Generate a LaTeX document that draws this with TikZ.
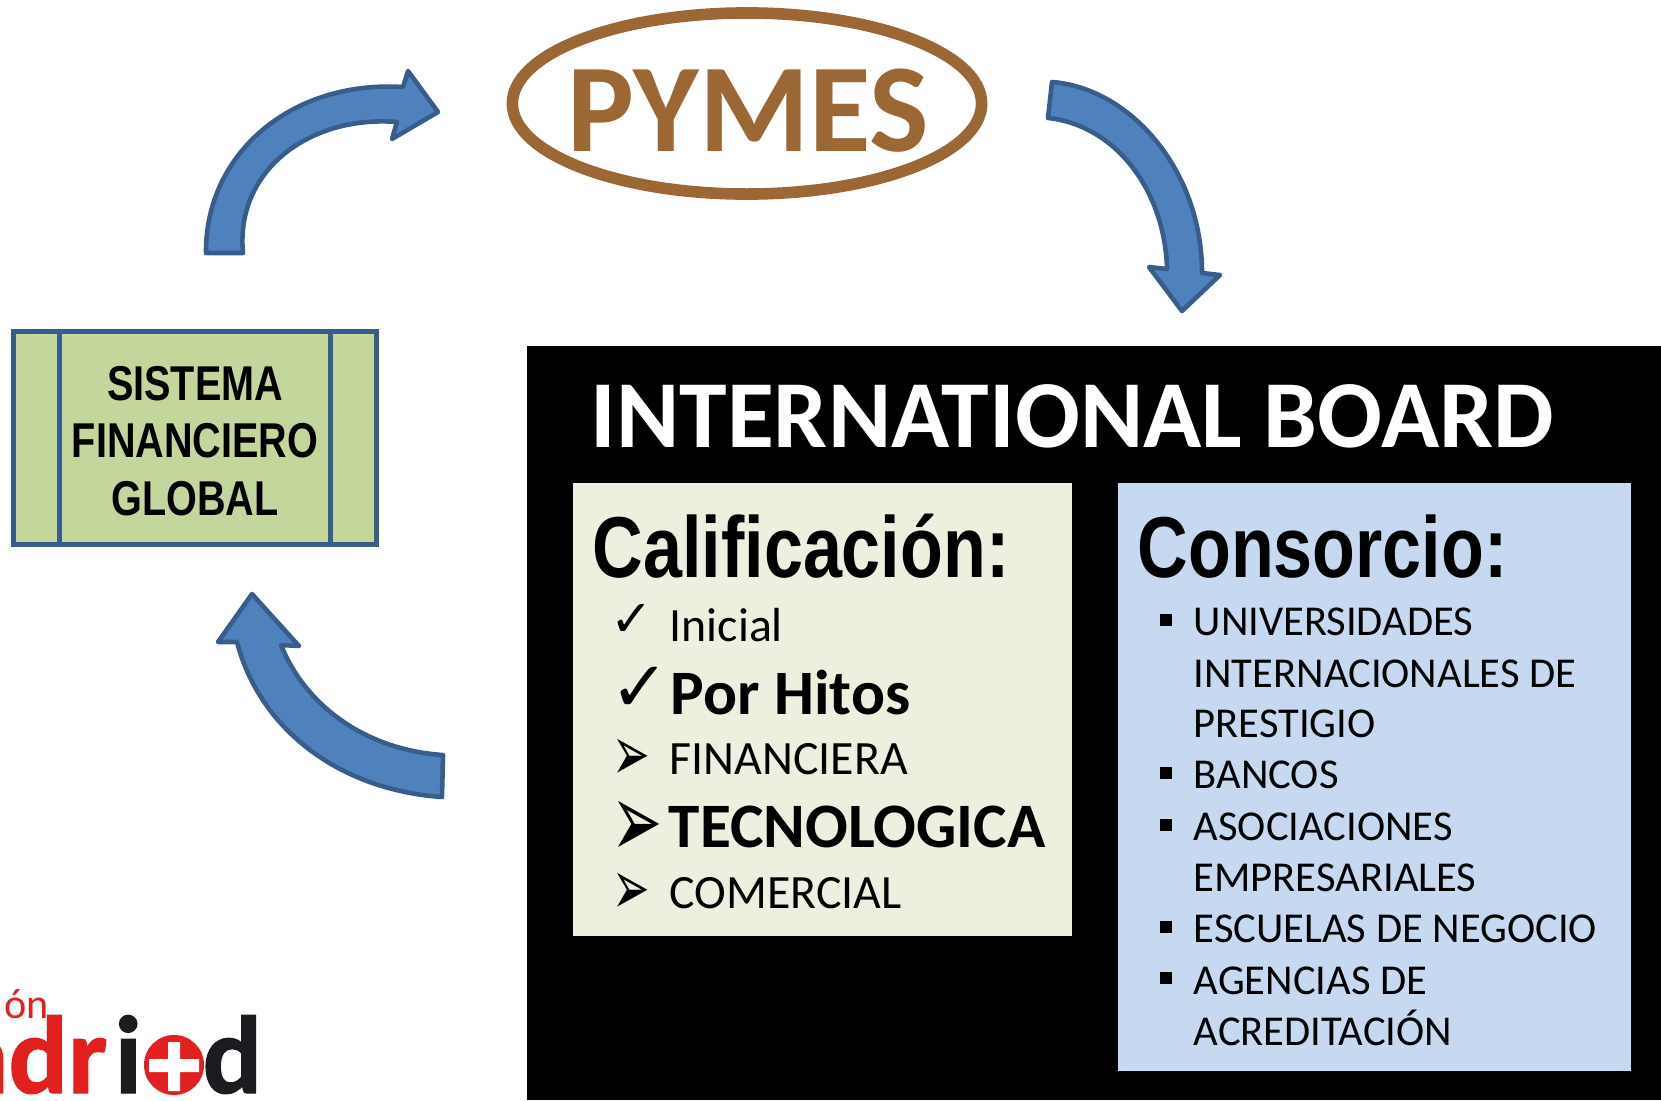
\documentclass[tikz,border=0pt]{standalone}
\usepackage{fontspec}
\setmainfont{Carlito}
\newfontfamily\narrowfont[FakeStretch=0.81]{Liberation Sans}
\newfontfamily\symfont{DejaVu Sans}
\newfontfamily\logofont[BoldFeatures={FakeBold=1.2}]{Carlito}
\usetikzlibrary{shapes.geometric}

\definecolor{arrowfill}{HTML}{4F81BD}
\definecolor{arrowline}{HTML}{385D8A}
\definecolor{pymesbrown}{HTML}{9B6734}
\definecolor{sfggreen}{HTML}{C3D69B}
\definecolor{califgreen}{HTML}{EBF1DE}
\definecolor{consblue}{HTML}{C6D9F1}
\definecolor{logored}{HTML}{E1201F}
\definecolor{logoblack}{HTML}{1C1C20}

\newcommand{\arrowglyph}{\scalebox{1.16}[2]{➢}}

\tikzset{
  blockarrow/.style={fill=arrowfill, draw=arrowline, line width=1.3pt, line join=round},
  sfgbox/.style={rectangle, fill=sfggreen, draw=arrowline, line width=1.5pt, inner sep=0pt},
  sfgline/.style={draw=arrowline, line width=1.5pt},
  sfgtext/.style={inner sep=0pt, align=center, font=\narrowfont\bfseries\fontsize{13.9}{16.2}\selectfont},
  panel/.style={rectangle, inner sep=0pt},
  txt/.style={anchor=base west, inner sep=0pt},
  heading/.style={txt, font=\narrowfont\bfseries\fontsize{24.6}{28}\selectfont},
  califitem/.style={txt, font=\fontsize{13.6}{16}\selectfont},
  califbold/.style={txt, font=\bfseries\fontsize{18}{20}\selectfont},
  consitem/.style={txt, font=\fontsize{12.1}{14}\selectfont},
  bulletmark/.style={rectangle, fill=black, inner sep=0pt, minimum size=0.125cm},
  tickmark/.style={anchor=center, inner sep=0pt, font=\symfont\fontsize{14.5}{14.5}\selectfont},
  bigmark/.style={anchor=center, inner sep=0pt, font=\symfont\fontsize{20}{20}\selectfont},
  arrowmark/.style={anchor=center, inner sep=0pt, font=\symfont\fontsize{11}{11}\selectfont},
  logotxt/.style={txt, font=\logofont\bfseries\fontsize{31.5}{32}\selectfont},
}

\begin{document}
\begin{tikzpicture}[x=0.01cm, y=-0.01cm]
\useasboundingbox (0,0) rectangle (1661,1100);

% Ellipse on top
\node[ellipse, draw=pymesbrown, line width=3.3pt, inner sep=0pt, minimum width=4.69cm, minimum height=1.81cm] (pymes) at (747,103.5) {};
\node[anchor=base, inner sep=0pt, text=pymesbrown, font=\bfseries\fontsize{35.8}{40}\selectfont] (pymestext) at (748,151) {PYMES};

% Curved arrows
\draw[blockarrow] (206,253) .. controls (205,155) and (290,80) .. (403,87)
  -- (408,71) -- (438,112) -- (392,139) -- (397,122)
  .. controls (310,115) and (235,170) .. (243,253) -- cycle;
\draw[blockarrow] (1052,82) .. controls (1130,88) and (1202,170) .. (1202,273)
  -- (1220,275) -- (1182,311) -- (1149,267) -- (1167,269)
  .. controls (1165,190) and (1115,125) .. (1048,118) -- cycle;
\draw[blockarrow] (442,797) .. controls (340,790) and (260,730) .. (237,642)
  -- (218,642) -- (252,594) -- (299,646) -- (281,645)
  .. controls (305,705) and (365,750) .. (443,755) -- cycle;

% Box on the left
\node[sfgbox, minimum width=3.634cm, minimum height=2.13cm] (sfg) at (195,438) {};
\draw[sfgline] ([xshift=0.49cm]sfg.north west) -- ([xshift=0.49cm]sfg.south west);
\draw[sfgline] ([xshift=-0.49cm]sfg.north east) -- ([xshift=-0.49cm]sfg.south east);
\node[sfgtext] (sfglabel) at (195,441) {SISTEMA\\[0.1pt]FINANCIERO\\[0.1pt]GLOBAL};

% Board and its two panels
\node[panel, fill=black, minimum width=11.34cm, minimum height=7.54cm] (board) at (1094,723) {};
\node[txt, text=white, font=\bfseries\fontsize{27.3}{30}\selectfont] (boardtitle) at (590,447) {INTERNATIONAL BOARD};
\node[panel, fill=califgreen, minimum width=4.99cm, minimum height=4.53cm] (calif) at (822.5,709.5) {};
\node[panel, fill=consblue, minimum width=5.13cm, minimum height=5.88cm] (cons) at (1374.5,777) {};

% Left panel
\node[heading] (califtitle) at (592,577) {Calificación:};
\node[tickmark] (tick1) at (632,620) {✓};
\node[bigmark] (tick2) at (640,689) {✓};
\node[arrowmark] (arrow1) at (631,760) {\arrowglyph};
\node[arrowmark, font=\symfont\fontsize{15}{15}\selectfont] (arrow2) at (637,829) {\arrowglyph};
\node[arrowmark] (arrow3) at (631,894) {\arrowglyph};
\node[califitem] (inicial) at (669,641) {Inicial};
\node[califbold] (hitos) at (670,714) {Por Hitos};
\node[califitem] (financiera) at (669,774) {FINANCIERA};
\node[califbold] (tecno) at (668,847) {TECNOLOGICA};
\node[califitem] (comercial) at (669,908) {COMERCIAL};

% Right panel
\node[heading] (constitle) at (1137,577) {Consorcio:};
\foreach \n/\y/\t in {1/635/UNIVERSIDADES, 2/687/INTERNACIONALES DE, 3/737/PRESTIGIO, 4/788/BANCOS,
  5/840/ASOCIACIONES, 6/891/EMPRESARIALES, 7/942/ESCUELAS DE NEGOCIO, 8/994/AGENCIAS DE, 9/1045/ACREDITACIÓN}
  \node[consitem] (cons\n) at (1193,\y) {\t};
\foreach \n/\y in {1/620, 4/773, 5/825, 7/927, 8/978}
  \node[bulletmark] (bullet\n) at (1166,\y) {};

% Logo
\begin{scope}
\clip (0,960) rectangle (300,1100);
\node[txt, text=logored, font=\fontsize{12}{14}\selectfont] (logotop) at (4,1018) {ón};
\node[logotxt, text=logored, anchor=base east] (logoa) at (108,1093) {adr};
\end{scope}
\node[logotxt, text=logoblack] (logoi) at (114,1093) {i};
\node[circle, fill=logored, inner sep=0pt, minimum size=0.6cm] (logoc) at (174,1065) {};
\fill[white] (149,1059) rectangle (199,1072) (168,1042) rectangle (180,1091);
\node[logotxt, text=logoblack] (logod) at (202,1093) {d};
\end{tikzpicture}
\end{document}
